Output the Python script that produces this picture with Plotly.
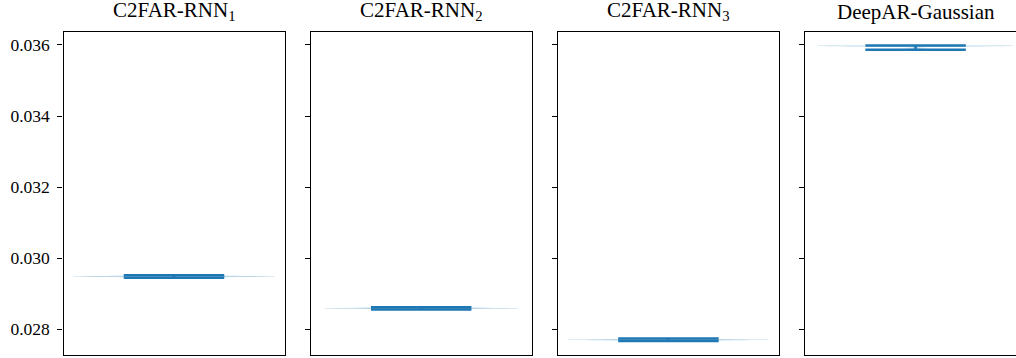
import plotly.graph_objects as go

# ---- data ----
models = ["C2FAR-RNN<sub>1</sub>", "C2FAR-RNN<sub>2</sub>", "C2FAR-RNN<sub>3</sub>", "DeepAR-Gaussian"]
runs_c2far_rnn1 = [0.029448, 0.029482, 0.029486, 0.029490, 0.029524]
runs_c2far_rnn2 = [0.028555, 0.028585, 0.028589, 0.028593, 0.028623]
runs_c2far_rnn3 = [0.027667, 0.027701, 0.027705, 0.027709, 0.027743]
runs_deepar_gaussian = [0.035868, 0.035974, 0.035978, 0.035981, 0.035986]
series = [runs_c2far_rnn1, runs_c2far_rnn2, runs_c2far_rnn3, runs_deepar_gaussian]
ytick_vals = [0.028, 0.030, 0.032, 0.034, 0.036]
ytick_text = ["0.028", "0.030", "0.032", "0.034", "0.036"]

# ---- layout constants ----
W, H = 1016, 358
FONT = "Liberation Serif"
C0 = "#1f77b4"
pos = 1.0
vwidth = 0.5
panel_left = [63.5, 310.7, 557.9, 805.1]
panel_w = 221.0
top_px, bot_px = 31.7, 354.7
y_range = [0.027285, 0.036374]

fig = go.Figure()

for i, (name, vals) in enumerate(zip(models, series)):
    k = i + 1
    xa = "x" if k == 1 else f"x{k}"
    ya = "y" if k == 1 else f"y{k}"
    # violin body
    fig.add_trace(go.Violin(
        y=vals, x0=pos, width=vwidth, spanmode="hard", points=False,
        fillcolor="rgba(31,119,180,0.3)", line=dict(width=0, color="rgba(31,119,180,0.3)"),
        box_visible=False, meanline_visible=False, showlegend=False,
        xaxis=xa, yaxis=ya, hoverinfo="skip",
    ))
    vmin, vmax = min(vals), max(vals)
    half = 0.25 * vwidth
    # extrema lines + connecting bar
    fig.add_trace(go.Scatter(
        x=[pos - half, pos + half, None, pos - half, pos + half, None, pos, pos],
        y=[vmin, vmin, None, vmax, vmax, None, vmin, vmax],
        mode="lines", line=dict(color=C0, width=2.5), showlegend=False,
        xaxis=xa, yaxis=ya, hoverinfo="skip",
    ))

    x0 = panel_left[i] / W
    x1 = min((panel_left[i] + panel_w) / W, 1.0)
    visible_w = min(panel_left[i] + panel_w, W) - panel_left[i]
    xr0 = pos - 0.55 * vwidth
    xr1 = xr0 + 1.1 * vwidth * (visible_w / panel_w)
    xkey = "xaxis" if k == 1 else f"xaxis{k}"
    ykey = "yaxis" if k == 1 else f"yaxis{k}"
    fig.update_layout(**{
        xkey: dict(domain=[x0, x1], range=[xr0, xr1], type="linear",
                   showgrid=False, zeroline=False, showticklabels=False, ticks="",
                   showline=True, linecolor="black", linewidth=1.3, mirror=True,
                   anchor=ya, automargin=False),
        ykey: dict(domain=[1 - bot_px / H, 1 - top_px / H], range=y_range,
                   showgrid=False, zeroline=False,
                   tickvals=ytick_vals, ticktext=ytick_text,
                   showticklabels=(k == 1),
                   ticks="outside", ticklen=5, tickwidth=1.3, tickcolor="black",
                   ticklabelstandoff=4,
                   showline=True, linecolor="black", linewidth=1.3,
                   mirror=(k != 4), anchor=xa, automargin=False,
                   tickfont=dict(family=FONT, size=17.5, color="black")),
    })
    fig.add_annotation(
        x=pos, xref=xa, y=1 - top_px / H, yref="paper", yanchor="bottom",
        text=name, showarrow=False, yshift=7, borderpad=0,
        font=dict(family=FONT, size=21, color="black"),
    )

fig.update_layout(
    width=W, height=H, margin=dict(l=0, r=0, t=0, b=0, autoexpand=False),
    paper_bgcolor="white", plot_bgcolor="white",
    font=dict(family=FONT, color="black"),
    showlegend=False,
)

fig.write_html("out.html", config={"displayModeBar": False},
               post_script="document.body.style.margin='0px';")
